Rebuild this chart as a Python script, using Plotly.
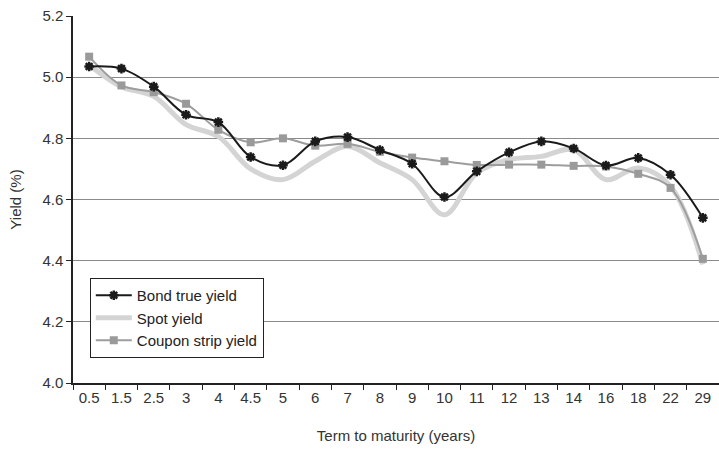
import plotly.graph_objects as go

terms = ["0.5", "1.5", "2.5", "3", "4", "4.5", "5", "6", "7", "8",
         "9", "10", "11", "12", "13", "14", "16", "18", "22", "29"]

bond_true_yield = [5.035, 5.028, 4.969, 4.877, 4.853, 4.739, 4.712, 4.790, 4.804, 4.762,
                   4.717, 4.608, 4.692, 4.754, 4.790, 4.767, 4.711, 4.736, 4.681, 4.540]

spot_yield = [5.040, 4.969, 4.937, 4.845, 4.806, 4.700, 4.665, 4.725, 4.774, 4.720,
              4.665, 4.550, 4.687, 4.730, 4.741, 4.763, 4.665, 4.703, 4.643, 4.388]

coupon_strip_yield = [5.067, 4.973, 4.951, 4.913, 4.828, 4.787, 4.800, 4.776, 4.782, 4.756,
                      4.737, 4.725, 4.713, 4.714, 4.714, 4.710, 4.708, 4.684, 4.638, 4.406]

y_ticks = [4.0, 4.2, 4.4, 4.6, 4.8, 5.0, 5.2]

label_font = "Liberation Sans, Arial, sans-serif"

fig = go.Figure()

fig.add_trace(go.Scatter(
    x=terms, y=spot_yield, name="Spot yield", mode="lines",
    line=dict(color="#d4d4d4", width=5, shape="spline", smoothing=1.0),
    legendrank=2,
))
fig.add_trace(go.Scatter(
    x=terms, y=coupon_strip_yield, name="Coupon strip yield", mode="lines+markers",
    line=dict(color="#9d9d9d", width=2, shape="spline", smoothing=1.0),
    marker=dict(symbol="square", size=8, color="#9a9a9a"),
    legendrank=3,
))
fig.add_trace(go.Scatter(
    x=terms, y=bond_true_yield, name="Bond true yield", mode="lines+markers",
    line=dict(color="#1a1a1a", width=2, shape="spline", smoothing=1.0),
    marker=dict(symbol="asterisk-open", size=8, color="#1a1a1a",
                line=dict(color="#1a1a1a", width=2.5)),
    legendrank=1,
))

fig.update_layout(
    width=719, height=453,
    margin=dict(l=73, r=0, t=16, b=70),
    paper_bgcolor="white", plot_bgcolor="white",
    showlegend=True,
    legend=dict(
        x=0.026, y=0.286, xanchor="left", yanchor="top",
        bgcolor="white", bordercolor="#222222", borderwidth=1,
        font=dict(family=label_font, size=15, color="#222222"),
        tracegroupgap=0, itemwidth=36,
    ),
    xaxis=dict(
        type="category", categoryorder="array", categoryarray=terms,
        range=[-0.5, len(terms) - 0.5], tickangle=0,
        showline=True, linecolor="#222222", linewidth=1.5,
        ticks="outside", ticklen=5, tickcolor="#222222", tickson="boundaries",
        showgrid=False, zeroline=False,
        tickfont=dict(family=label_font, size=15, color="#333333"),
        title=dict(text="Term to maturity (years)",
                   font=dict(family=label_font, size=15, color="#333333"), standoff=26),
    ),
    yaxis=dict(
        range=[4.0, 5.2], tickvals=y_ticks, ticktext=[f"{v:.1f}" for v in y_ticks],
        showline=True, linecolor="#222222", linewidth=1.5,
        ticks="outside", ticklen=5, tickcolor="#222222",
        showgrid=True, gridcolor="#8a8a8a", gridwidth=1.2, zeroline=False,
        tickfont=dict(family=label_font, size=15, color="#333333"),
        title=dict(text="Yield (%)",
                   font=dict(family=label_font, size=15, color="#333333"), standoff=17),
    ),
)

fig.write_html("out.html")
